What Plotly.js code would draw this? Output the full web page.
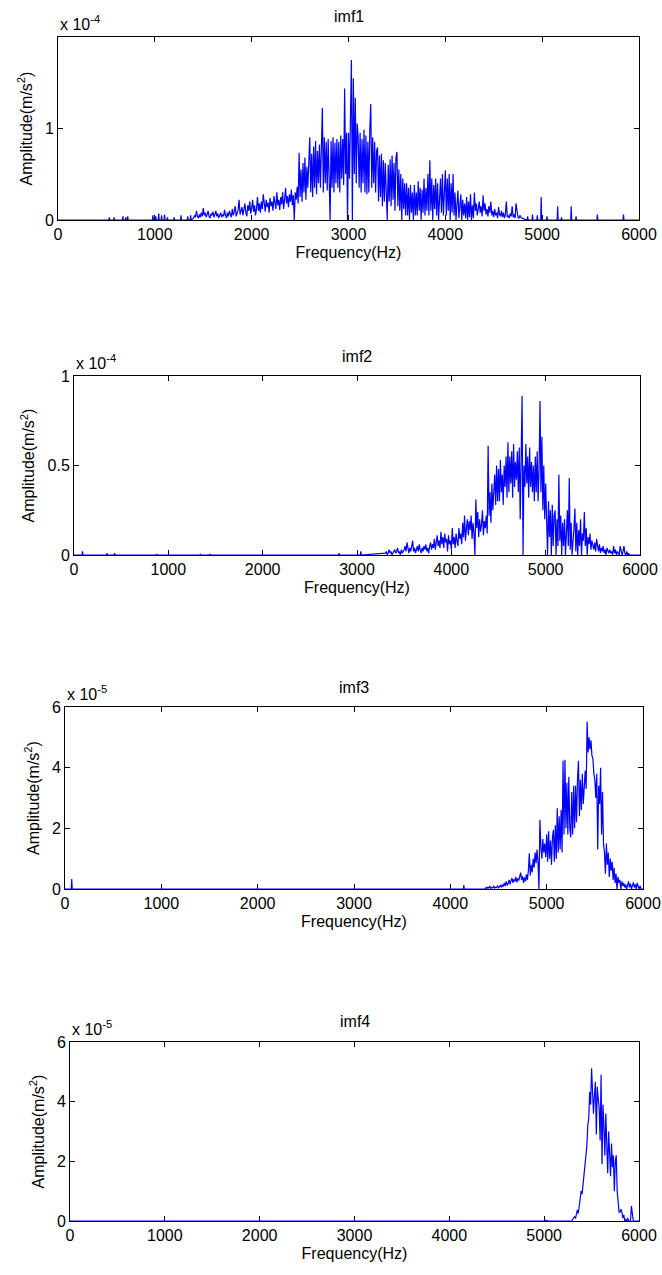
<!DOCTYPE html>
<html>
<head>
<meta charset="utf-8">
<script src="https://cdn.plot.ly/plotly-3.0.1.min.js"></script>
<style>html,body{margin:0;padding:0;background:#fff;}#chart{width:662px;height:1275px;}</style>
</head>
<body>
<div id="chart"></div>
<script>
// ---------- DATA (amplitudes in units of the axis multiplier) ----------
const subplotTitles = ["imf1", "imf2", "imf3", "imf4"];
const xTickVals = [0, 1000, 2000, 3000, 4000, 5000, 6000];
const exponents = ["-4", "-4", "-5", "-5"];
const yTickVals1 = [0, 1];
const yTickVals2 = [0, 0.5, 1];
const yTickVals3 = [0, 2, 4, 6];
const yTickVals4 = [0, 2, 4, 6];
const binStep = 10; // Hz between spectrum bins

// imf1 (x 1e-4), dense band starting at 1400 Hz
const imf1BandStart = 1400;
const imf1Amp = [
 0.02,0.05,0.03,0.10,0.04,0.02,0.06,0.03,0.08,0.04,
 0.13,0.05,0.08,0.03,0.06,0.10,0.04,0.02,0.07,0.05,
 0.09,0.03,0.06,0.10,0.04,0.07,0.02,0.05,0.08,0.03,
 0.06,0.04,0.11,0.05,0.02,0.08,0.04,0.10,0.06,0.03,
 0.12,0.05,0.09,0.15,0.04,0.08,0.11,0.22,0.06,0.10,
 0.14,0.05,0.12,0.18,0.08,0.04,0.16,0.10,0.20,0.07,
 0.13,0.22,0.09,0.16,0.05,0.12,0.25,0.10,0.18,0.08,
 0.20,0.12,0.28,0.15,0.09,0.22,0.14,0.19,0.08,0.24,
 0.15,0.20,0.10,0.26,0.18,0.12,0.30,0.16,0.22,0.11,
 0.25,0.17,0.30,0.12,0.22,0.35,0.18,0.26,0.14,0.28,
 0.20,0.33,0.16,0.27,0.00,0.30,0.22,0.36,0.18,0.73,
 0.25,0.55,0.20,0.62,0.30,0.68,0.22,0.58,0.35,0.65,
 0.90,0.30,0.72,0.25,0.80,0.35,0.86,0.28,0.75,0.40,
 0.82,0.35,0.88,1.22,0.30,0.90,0.40,0.85,0.32,0.88,
 0.45,0.00,0.86,0.35,0.90,0.30,0.84,0.40,0.88,0.35,
 0.85,0.30,0.92,0.45,0.88,0.38,1.43,0.50,0.95,0.00,
 0.95,0.45,1.10,1.74,0.00,1.54,0.50,1.33,0.40,1.05,
 0.90,0.35,0.95,0.30,0.88,0.40,0.98,0.30,0.92,0.28,
 0.85,0.30,0.98,1.26,0.35,0.90,0.40,0.85,0.30,0.75,
 0.79,0.20,0.70,0.25,0.72,0.15,0.65,0.20,0.62,0.18,
 0.00,0.60,0.20,0.66,0.15,0.70,0.22,0.62,0.10,0.68,
 0.74,0.15,0.55,0.10,0.50,0.00,0.45,0.12,0.40,0.05,
 0.40,0.05,0.35,0.00,0.38,0.08,0.30,0.00,0.38,0.05,
 0.30,0.05,0.42,0.10,0.35,0.00,0.33,0.08,0.45,0.05,
 0.35,0.10,0.50,0.05,0.65,0.10,0.45,0.00,0.38,0.12,
 0.45,0.05,0.40,0.00,0.35,0.45,0.08,0.50,0.05,0.40,
 0.54,0.05,0.45,0.10,0.50,0.00,0.40,0.08,0.50,0.05,
 0.30,0.00,0.25,0.32,0.02,0.20,0.28,0.00,0.22,0.05,
 0.18,0.02,0.25,0.00,0.20,0.03,0.28,0.00,0.16,0.02,
 0.30,0.10,0.18,0.05,0.12,0.20,0.08,0.15,0.04,0.27,
 0.10,0.18,0.06,0.12,0.04,0.15,0.08,0.20,0.05,0.10,
 0.03,0.12,0.05,0.08,0.02,0.14,0.06,0.04,0.10,0.03,
 0.08,0.02,0.06,0.20,0.03,0.05,0.02,0.07,0.04,0.15,
 0.03,0.06,0.02,0.18,0.10,0.03,0.02,0.05,0.03,0.02
];
const imf1BlipFreq = [530,580,670,700,720,980,1010,1040,1070,1100,1130,1200,1270,1340,1370,4850,4900,4950,4990,5050,5160,5200,5300,5350,5570,5840];
const imf1BlipAmp  = [0.03,0.03,0.04,0.03,0.04,0.05,0.04,0.07,0.05,0.06,0.03,0.03,0.05,0.04,0.05,0.04,0.06,0.05,0.25,0.04,0.15,0.03,0.15,0.04,0.06,0.06];

// imf2 (x 1e-4), dense band starting at 3300 Hz
const imf2BandStart = 3300;
const imf2Amp = [
 0.01,0.02,0.00,0.01,0.03,0.01,0.02,0.00,0.01,0.02,
 0.03,0.01,0.02,0.04,0.01,0.02,0.00,0.03,0.01,0.02,
 0.03,0.05,0.02,0.07,0.03,0.01,0.04,0.02,0.05,0.08,
 0.02,0.04,0.01,0.03,0.05,0.02,0.06,0.03,0.01,0.04,
 0.02,0.05,0.03,0.06,0.02,0.04,0.01,0.05,0.07,0.03,
 0.06,0.04,0.09,0.03,0.07,0.11,0.05,0.08,0.04,0.13,
 0.06,0.10,0.04,0.12,0.07,0.09,0.02,0.11,0.06,0.08,
 0.03,0.15,0.06,0.10,0.04,0.12,0.08,0.05,0.15,0.09,
 0.12,0.06,0.18,0.10,0.22,0.08,0.15,0.20,0.11,0.19,
 0.14,0.22,0.09,0.18,0.12,0.00,0.31,0.15,0.24,0.10,
 0.20,0.13,0.17,0.25,0.11,0.19,0.15,0.22,0.12,0.61,
 0.22,0.35,0.18,0.40,0.25,0.33,0.45,0.28,0.50,0.30,
 0.48,0.30,0.53,0.35,0.45,0.28,0.50,0.38,0.55,0.32,
 0.63,0.35,0.55,0.40,0.58,0.32,0.62,0.38,0.52,0.42,
 0.58,0.35,0.60,0.20,0.55,0.89,0.00,0.50,0.38,0.62,
 0.40,0.55,0.32,0.60,0.38,0.52,0.35,0.50,0.30,0.55,
 0.35,0.58,0.30,0.48,0.86,0.35,0.66,0.25,0.50,0.20,
 0.40,0.10,0.00,0.30,0.10,0.25,0.00,0.28,0.05,0.22,
 0.25,0.00,0.20,0.05,0.45,0.08,0.22,0.00,0.18,0.05,
 0.20,0.00,0.15,0.25,0.05,0.43,0.03,0.18,0.00,0.12,
 0.15,0.26,0.02,0.18,0.00,0.14,0.05,0.20,0.00,0.12,
 0.08,0.24,0.05,0.15,0.00,0.10,0.06,0.12,0.03,0.08,
 0.05,0.03,0.07,0.02,0.09,0.04,0.02,0.06,0.01,0.04,
 0.02,0.05,0.01,0.03,0.00,0.04,0.02,0.01,0.03,0.01,
 0.02,0.00,0.05,0.01,0.03,0.00,0.02,0.01,0.00,0.05,
 0.01,0.00,0.02,0.05,0.01,0.00,0.02,0.00,0.01,0.00
];
const imf2BlipFreq = [90,350,430,880,1340,1440,2810,3040];
const imf2BlipAmp  = [0.02,0.01,0.01,0.005,0.005,0.005,0.01,0.02];

// imf3 (x 1e-5), dense band starting at 4300 Hz
const imf3BandStart = 4300;
const imf3Amp = [
 0.00,0.00,0.00,0.00,0.00,0.00,0.00,0.05,0.02,0.06,
 0.03,0.08,0.02,0.05,0.04,0.09,0.03,0.06,0.05,0.10,
 0.04,0.08,0.12,0.05,0.15,0.08,0.20,0.10,0.25,0.12,
 0.18,0.30,0.15,0.28,0.36,0.20,0.32,0.25,0.40,0.22,
 0.35,0.28,0.45,0.54,0.30,0.42,0.20,0.38,0.25,0.48,
 0.30,0.60,1.18,0.45,0.80,0.55,1.00,0.70,1.20,0.85,
 1.30,0.90,0.00,2.28,1.40,1.00,1.65,1.20,1.50,1.05,
 1.80,0.90,1.90,1.00,1.60,0.80,1.70,1.95,0.90,2.10,
 1.00,2.66,1.20,2.40,1.30,2.60,1.20,4.23,1.80,4.26,
 2.00,3.50,1.80,3.70,2.00,1.70,3.20,1.80,3.40,2.00,
 3.40,2.20,3.60,4.23,2.40,3.60,2.60,3.80,2.80,3.50,
 3.90,3.30,5.52,4.50,5.00,4.60,4.90,4.40,4.30,3.80,
 3.60,3.00,3.80,1.30,3.40,2.80,4.00,1.80,3.20,1.50,
 1.20,0.50,1.50,0.80,1.20,0.40,1.00,0.60,0.90,0.30,
 0.70,0.20,0.50,0.00,0.40,0.20,0.30,0.00,0.25,0.10,
 0.20,0.05,0.15,0.00,0.10,0.25,0.05,0.18,0.00,0.12,
 0.22,0.05,0.15,0.00,0.20,0.08,0.00,0.10,0.00,0.00
];
const imf3BlipFreq = [70,4140];
const imf3BlipAmp  = [0.33,0.13];

// imf4 (x 1e-5), dense band starting at 5000 Hz
const imf4BandStart = 5000;
const imf4Amp = [
 0.00,0.00,0.03,0.00,0.00,0.00,0.00,0.00,0.00,0.00,
 0.00,0.02,0.00,0.00,0.00,0.00,0.00,0.00,0.00,0.00,
 0.00,0.00,0.00,0.00,0.00,0.00,0.00,0.00,0.00,0.00,
 0.05,0.10,0.15,0.08,0.20,0.37,0.25,0.55,0.80,1.00,
 0.90,1.20,1.50,1.80,2.05,2.50,3.22,3.45,4.33,3.90,
 5.12,4.00,3.60,4.20,4.67,2.90,4.50,4.10,3.80,2.70,
 4.90,1.90,3.90,3.20,2.20,3.60,2.80,1.60,3.00,2.20,
 1.50,2.60,1.80,2.20,1.00,2.00,2.20,1.00,0.50,0.30,
 0.30,0.40,0.30,0.10,0.20,0.00,0.05,0.00,0.10,0.00,
 0.00,0.00,0.50,0.10,0.00,0.00,0.00,0.00,0.00,0.00
];
const imf4BlipFreq = [];
const imf4BlipAmp  = [];

// ---------- BUILD ----------
function buildSeries(bandStart, amps, blipF, blipA) {
  const pts = [[0, 0], [6000, 0]];
  amps.forEach((a, i) => pts.push([bandStart + i * binStep, a]));
  blipF.forEach((f, i) => { pts.push([f - 5, 0], [f, blipA[i]], [f + 5, 0]); });
  pts.sort((p, q) => p[0] - q[0]);
  return { x: pts.map(p => p[0]), y: pts.map(p => p[1]) };
}
const series = [
  buildSeries(imf1BandStart, imf1Amp, imf1BlipFreq, imf1BlipAmp),
  buildSeries(imf2BandStart, imf2Amp, imf2BlipFreq, imf2BlipAmp),
  buildSeries(imf3BandStart, imf3Amp, imf3BlipFreq, imf3BlipAmp),
  buildSeries(imf4BandStart, imf4Amp, imf4BlipFreq, imf4BlipAmp)
];
const yTicks = [yTickVals1, yTickVals2, yTickVals3, yTickVals4];
const yRanges = [[0, 1.99], [0, 1], [0, 6], [0, 6]];

// plot boxes in pixels: [left, right, top, bottom]
const W = 662, H = 1275;
const boxes = [[58, 639, 37, 220], [74, 640, 376, 555], [65, 643, 707, 889], [70, 639, 1042, 1221]];

const FONT = "Liberation Sans, Arial, sans-serif";
const traces = [];
const layout = {
  width: W, height: H,
  margin: { l: 0, r: 0, t: 0, b: 0 },
  paper_bgcolor: "#fff", plot_bgcolor: "#fff",
  showlegend: false,
  font: { family: FONT, size: 16, color: "#000" },
  annotations: []
};
series.forEach((s, i) => {
  const n = i + 1;
  const xa = "xaxis" + (n === 1 ? "" : n), ya = "yaxis" + (n === 1 ? "" : n);
  const b = boxes[i];
  traces.push({
    type: "scatter", mode: "lines", x: s.x, y: s.y,
    xaxis: "x" + (n === 1 ? "" : n), yaxis: "y" + (n === 1 ? "" : n),
    line: { color: "#0000ff", width: 1.2 }, hoverinfo: "skip"
  });
  const axCommon = {
    showline: true, linecolor: "#000", linewidth: 1, mirror: "ticks",
    ticks: "inside", ticklen: 5, tickcolor: "#000", tickwidth: 1,
    showgrid: false, zeroline: false, layer: "below traces",
    tickfont: { family: FONT, size: 16, color: "#000" }, automargin: false
  };
  layout[xa] = Object.assign({}, axCommon, {
    domain: [b[0] / W, b[1] / W], anchor: "y" + (n === 1 ? "" : n),
    range: [0, 6000], tickmode: "array", tickvals: xTickVals,
    ticktext: xTickVals.map(String),
    title: { text: "Frequency(Hz)", font: { family: FONT, size: 16, color: "#000" }, standoff: 4 }
  });
  layout[ya] = Object.assign({}, axCommon, {
    domain: [1 - b[3] / H, 1 - b[2] / H], anchor: "x" + (n === 1 ? "" : n),
    range: yRanges[i], tickmode: "array", tickvals: yTicks[i],
    ticktext: yTicks[i].map(String),
    title: { text: "Amplitude(m/s<sup>2</sup>)", font: { family: FONT, size: 16, color: "#000" }, standoff: 8 }
  });
  layout.annotations.push({
    text: subplotTitles[i], xref: "paper", yref: "paper",
    x: (b[0] + b[1]) / 2 / W, y: 1 - (b[2] - 20) / H,
    xanchor: "center", yanchor: "middle", showarrow: false,
    font: { family: FONT, size: 16, color: "#000" }
  });
  layout.annotations.push({
    text: "x 10<sup>" + exponents[i] + "</sup>", xref: "paper", yref: "paper",
    x: b[0] / W, y: 1 - b[2] / H, xanchor: "left", yanchor: "bottom", yshift: 2,
    showarrow: false, font: { family: FONT, size: 16, color: "#000" }
  });
});
Plotly.newPlot("chart", traces, layout, { staticPlot: true, displayModeBar: false });
</script>
</body>
</html>
